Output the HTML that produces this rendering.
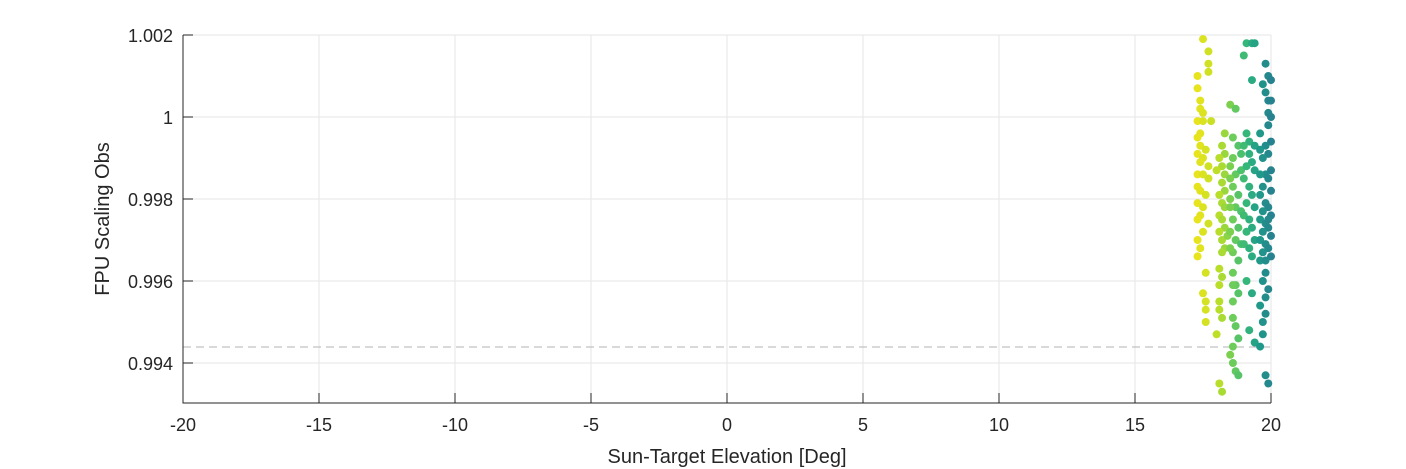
<!DOCTYPE html>
<html><head><meta charset="utf-8"><style>
html,body{margin:0;padding:0;background:#fff;}
svg{display:block;font-family:"Liberation Sans",Arial,sans-serif;}
</style></head><body>
<svg id="chart" width="1406" height="469" viewBox="0 0 1406 469" xmlns="http://www.w3.org/2000/svg"></svg>
<script>
const xTicks=[-20,-15,-10,-5,0,5,10,15,20];
const yTicks=[0.994,0.996,0.998,1.000,1.002];
const yTickLabels=["0.994","0.996","0.998","1","1.002"];
const refLine=0.99439;
const xVals=[17.5,17.7,17.7,17.3,17.7,17.3,17.4,17.4,17.5,17.3,17.5,17.8,17.4,17.3,17.4,17.6,17.3,17.5,17.4,17.7,17.3,17.5,17.7,17.3,17.4,17.6,17.3,17.5,17.4,17.3,17.7,17.5,17.3,17.4,17.3,17.6,17.5,17.6,17.6,17.6,
18.1,18.2,18.1,18.1,18.1,18.2,18.1,18.2,18.0,18.3,18.2,18.3,18.1,18.2,18.3,18.0,18.2,18.3,18.1,18.2,18.3,18.1,18.2,18.3,18.1,18.2,18.4,18.3,18.2,
18.5,18.7,18.6,18.8,18.6,18.9,18.5,18.7,18.9,18.6,18.8,18.5,18.7,18.9,18.6,18.8,18.5,18.7,18.9,18.6,18.8,18.6,18.7,18.8,18.6,18.6,18.7,18.8,18.6,18.6,18.7,18.8,18.5,18.6,18.5,18.5,18.5,
19.1,19.3,19.4,19.0,19.3,19.1,19.2,19.4,19.0,19.2,19.3,19.1,19.4,19.0,19.2,19.3,19.1,19.4,19.0,19.2,19.3,19.1,19.4,19.0,19.2,19.3,19.1,19.3,19.2,19.4,19.6,
19.8,19.9,19.7,19.8,20.0,19.9,20.0,19.9,20.0,19.9,19.6,20.0,19.8,19.6,19.9,19.7,20.0,19.8,19.6,19.9,19.7,20.0,19.6,19.8,19.9,19.7,20.0,19.6,19.8,19.9,19.7,20.0,19.6,19.8,19.9,19.7,20.0,19.6,19.8,19.7,19.9,19.8,19.6,19.8,19.7,19.7,19.8,19.9,19.8,19.9];
const yVals=[1.0019,1.0016,1.0011,1.0010,1.0013,1.0007,1.0004,1.0002,1.0001,0.9999,0.9999,0.9999,0.9996,0.9995,0.9993,0.9992,0.9991,0.9990,0.9989,0.9988,0.9986,0.9986,0.9985,0.9983,0.9982,0.9981,0.9979,0.9978,0.9976,0.9975,0.9974,0.9972,0.9970,0.9968,0.9966,0.9962,0.9957,0.9955,0.9953,0.9950,
0.9963,0.9961,0.9959,0.9955,0.9953,0.9951,0.9935,0.9933,0.9947,0.9996,0.9993,0.9991,0.9990,0.9988,0.9986,0.9987,0.9984,0.9982,0.9981,0.9979,0.9978,0.9976,0.9975,0.9973,0.9972,0.9970,0.9971,0.9968,0.9967,
1.0003,1.0002,0.9995,0.9993,0.9990,0.9991,0.9988,0.9986,0.9987,0.9983,0.9981,0.9980,0.9978,0.9977,0.9975,0.9973,0.9972,0.9970,0.9969,0.9967,0.9965,0.9962,0.9959,0.9957,0.9955,0.9951,0.9949,0.9946,0.9944,0.9940,0.9938,0.9937,0.9942,0.9959,0.9978,0.9985,0.9968,
1.0018,1.0018,1.0018,1.0015,1.0009,0.9996,0.9994,0.9993,0.9993,0.9991,0.9989,0.9988,0.9987,0.9985,0.9983,0.9981,0.9979,0.9978,0.9976,0.9975,0.9973,0.9972,0.9970,0.9969,0.9968,0.9966,0.9960,0.9957,0.9948,0.9945,0.9944,
1.0013,1.0010,1.0008,1.0006,1.0009,1.0004,1.0004,1.0001,1.0000,0.9998,0.9996,0.9994,0.9993,0.9992,0.9991,0.9990,0.9987,0.9986,0.9986,0.9985,0.9983,0.9982,0.9981,0.9979,0.9978,0.9977,0.9976,0.9975,0.9974,0.9973,0.9972,0.9971,0.9970,0.9969,0.9968,0.9967,0.9966,0.9965,0.9962,0.9960,0.9958,0.9956,0.9954,0.9952,0.9950,0.9947,0.9937,0.9935,0.9965,0.9975];

const L=183,R=1271,T=35,B=403;
const yMin=1.002-(B-T)/41000, yMax=1.002;
const sx=v=>L+(v+20)/40*(R-L);
const sy=v=>T+(yMax-v)/(yMax-yMin)*(B-T);
const NS="http://www.w3.org/2000/svg";
const svg=document.getElementById('chart');
function mk(tag,attrs,parent){const e=document.createElementNS(NS,tag);for(const k in attrs)e.setAttribute(k,attrs[k]);(parent||svg).appendChild(e);return e;}
const stops=[[17.2,[237,229,27]],[18.1,[184,222,41]],[18.6,[108,205,90]],[19.1,[53,183,121]],[19.5,[31,158,137]],[20.0,[38,130,142]]];
function col(x){if(x<=stops[0][0])return stops[0][1];for(let i=1;i<stops.length;i++){if(x<=stops[i][0]){const a=stops[i-1],b=stops[i],t=(x-a[0])/(b[0]-a[0]);return a[1].map((c,j)=>Math.round(c+(b[1][j]-c)*t));}}return stops[stops.length-1][1];}

const grid=mk('g',{});


xTicks.forEach(t=>{mk('line',{x1:sx(t),x2:sx(t),y1:T,y2:B,stroke:'#e6e6e6','stroke-width':1},grid);});
yTicks.forEach(t=>{mk('line',{x1:L,x2:R,y1:sy(t),y2:sy(t),stroke:'#e6e6e6','stroke-width':1},grid);});
mk('line',{x1:L,x2:R,y1:T,y2:T,stroke:'#e6e6e6'},grid);
mk('line',{x1:R,x2:R,y1:T,y2:B,stroke:'#e6e6e6'},grid);

const ref=mk('line',{x1:L,x2:R,y1:sy(refLine),y2:sy(refLine),stroke:'#b3b3b3','stroke-width':1,'stroke-dasharray':'8,5'});



const pts=mk('g',{});


xVals.forEach((x,i)=>{const c=col(x);const p=mk('circle',{cx:sx(x),cy:sy(yVals[i]),r:4,fill:`rgb(${c[0]},${c[1]},${c[2]})`},pts);

});

const ax=mk('g',{stroke:'#262626','stroke-width':1});


mk('line',{x1:L,x2:L,y1:T,y2:B+0.5},ax);
mk('line',{x1:L,x2:R,y1:B,y2:B},ax);
xTicks.forEach(t=>{mk('line',{x1:sx(t),x2:sx(t),y1:B,y2:B-10},ax);
const tx=mk('text',{x:sx(t),y:B+28,'text-anchor':'middle','font-size':18,fill:'#262626',stroke:'none'});tx.textContent=t;

});
yTicks.forEach((t,i)=>{mk('line',{x1:L,x2:L+10,y1:sy(t),y2:sy(t)},ax);
const ty=mk('text',{x:L-10,y:sy(t)+7,'text-anchor':'end','font-size':18,fill:'#262626',stroke:'none'});ty.textContent=yTickLabels[i];

});
const xt=mk('text',{x:(L+R)/2,y:463,'text-anchor':'middle','font-size':20,fill:'#262626'});xt.textContent='Sun-Target Elevation [Deg]';


const yt=mk('text',{x:0,y:0,'text-anchor':'middle','font-size':20,fill:'#262626',transform:`translate(109,${(T+B)/2}) rotate(-90)`});yt.textContent='FPU Scaling Obs';


</script>
</body></html>
